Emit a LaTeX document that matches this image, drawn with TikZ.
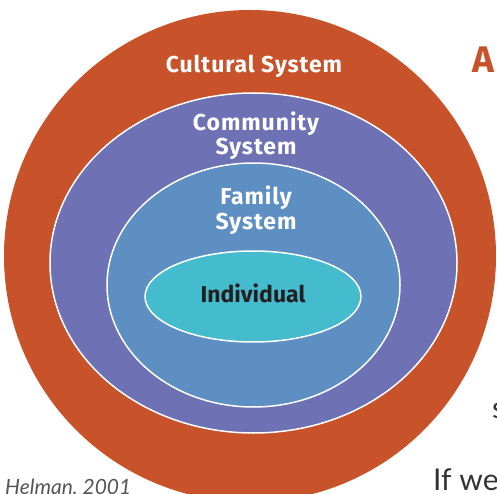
\documentclass[tikz,border=0pt]{standalone}
\usepackage{fontspec}
\setmainfont{Fira Sans}
\newfontfamily\bodyfont{Lato}
\newfontfamily\lblfont[LetterSpace=4]{Fira Sans}
\definecolor{corange}{HTML}{C8532A}
\definecolor{cpurple}{HTML}{6E71B4}
\definecolor{cblue}{HTML}{5E8FC2}
\definecolor{ccyan}{HTML}{45BBCE}
\definecolor{cdark}{HTML}{231F20}
\definecolor{cbody}{HTML}{333333}
\definecolor{ccite}{HTML}{555555}
\tikzset{
  ring/.style={draw=white, line width=1.5pt},
  lbl/.style={anchor=base, inner sep=0pt, align=center, text=white,
    font=\lblfont\fontsize{23}{24.5}\selectfont\bfseries},
}
\begin{document}
\begin{tikzpicture}[x=1pt,y=1pt]
\useasboundingbox (0,0) rectangle (497,493);
\clip (0,0) rectangle (497,493);
% rings
\fill[corange] (250,237) circle[radius=246];
\filldraw[ring, fill=cpurple] (253.5,230) ellipse[x radius=203.5, y radius=170];
\filldraw[ring, fill=cblue] (253.5,208) ellipse[x radius=146.5, y radius=122];
\filldraw[ring, fill=ccyan] (253,196.5) ellipse[x radius=108, y radius=45.5];
% labels
\node[lbl] (cult) at (254,420.5) {Cultural System};
\node[lbl] (comm) at (256,338) {Community\\System};
\node[lbl] (fam) at (256,264) {Family\\System};
\node[anchor=base, inner sep=0pt, text=cdark, font=\fontsize{23}{24.5}\selectfont\bfseries] (ind) at (253,190.5) {Individual};
% surrounding page text
\node[anchor=base west, inner sep=0pt, text=corange, font=\fontsize{37}{37}\selectfont\bfseries] (heada) at (472,420) {A};
\node[anchor=base west, inner sep=0pt, text=cbody, font=\bodyfont\fontsize{30}{30}\selectfont] (bodys) at (492,75) {s};
\node[anchor=base west, inner sep=0pt, text=cbody, font=\bodyfont\fontsize{30}{30}\selectfont] (bodyif) at (433,3) {If we};
\node[anchor=base west, inner sep=0pt, text=ccite, font=\bodyfont\itshape\fontsize{21}{21}\selectfont] (cite) at (5,-1) {Helman, 2001};
\end{tikzpicture}
\end{document}
